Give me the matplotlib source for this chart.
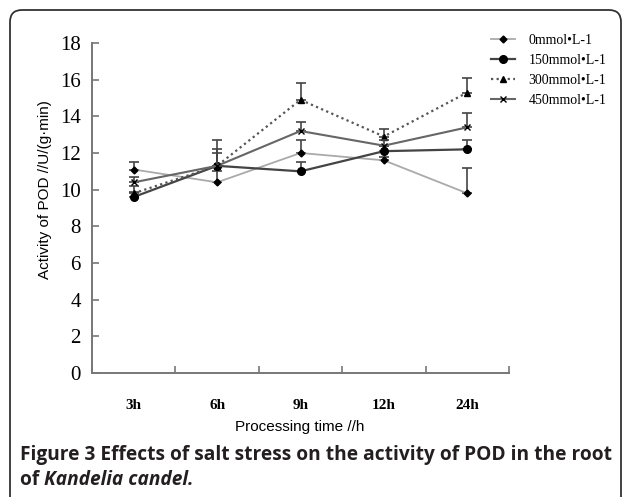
import numpy as np
import matplotlib
matplotlib.use("Agg")
import matplotlib.pyplot as plt
import matplotlib.patches as mpatches
from matplotlib.transforms import IdentityTransform

# data
times = ["3h", "6h", "9h", "12h", "24h"]
labels = ["0mmol•L-1", "150mmol•L-1", "300mmol•L-1", "450mmol•L-1"]
pod_0 = [11.1, 10.4, 12.0, 11.6, 9.8]
pod_150 = [9.6, 11.3, 11.0, 12.1, 12.2]
pod_300 = [9.8, 11.3, 14.9, 12.9, 15.3]
pod_450 = [10.4, 11.3, 13.2, 12.4, 13.4]
err_0 = [0.4, 0.6, 0.7, 0.2, 1.4]
err_150 = [0.3, 0.7, 0.5, 0.3, 0.5]
err_300 = [0.4, 0.9, 0.9, 0.4, 0.8]
err_450 = [0.3, 1.4, 0.5, 0.3, 0.8]

W, H = 629, 497
fig = plt.figure(figsize=(W / 100, H / 100), dpi=100)
ax = fig.add_axes([92 / W, 1 - 373 / H, (509 - 92) / W, (373 - 43) / H])

x = np.arange(len(times))
styles = [
    dict(color="#aaaaaa", lw=1.3, ls="-", marker="D", ms=3.5),
    dict(color="#444444", lw=1.6, ls="-", marker="o", ms=5.5),
    dict(color="#555555", lw=1.6, ls=(0, (1, 1.5)), marker="^", ms=5),
    dict(color="#666666", lw=1.5, ls="-", marker="x", ms=5),
]
series = [pod_0, pod_150, pod_300, pod_450]
errs = [err_0, err_150, err_300, err_450]

for y, e, lab, st in zip(series, errs, labels, styles):
    ax.errorbar(x, y, yerr=[np.zeros(len(e)), e], fmt="none",
                ecolor="#444444", elinewidth=1.2, capsize=3.5, capthick=1.2)
    ax.plot(x, y, color=st["color"], lw=st["lw"], ls=st["ls"],
            marker=st["marker"], ms=st["ms"], mfc="black", mec="black",
            label=lab)

ax.set_xlim(-0.5, len(times) - 0.5)
ax.set_ylim(0, 18)
ax.set_yticks(np.arange(0, 19, 2))
ax.set_xticks(np.arange(-0.5, len(times), 1))
ax.set_xticklabels([])
ax.set_xticks(x, minor=True)
ax.set_xticklabels(times, minor=True, fontfamily="Liberation Serif",
                   fontweight="bold", fontsize=11)
ax.tick_params(axis="x", which="minor", length=0, pad=19)
ax.tick_params(axis="x", which="major", direction="in", length=5,
               color="#777777", width=1.2)
ax.tick_params(axis="y", direction="in", length=5, color="#777777",
               width=1.2, pad=8)
for t in ax.get_yticklabels():
    t.set_fontfamily("Liberation Serif")
    t.set_fontsize(15)
for s in ["top", "right"]:
    ax.spines[s].set_visible(False)
for s in ["left", "bottom"]:
    ax.spines[s].set_color("#777777")
    ax.spines[s].set_linewidth(1.4)

ax.set_ylabel("Activity of POD //U/(g·min)", fontfamily="Liberation Sans",
              fontsize=11)
ax.yaxis.set_label_coords((52 - 92) / 417, (373 - 190) / 330)
ax.set_xlabel("Processing time //h", fontfamily="Liberation Sans", fontsize=11)
ax.xaxis.set_label_coords((300 - 92) / 417, (373 - 420) / 330)

fig.legend(loc="upper left", bbox_to_anchor=(484 / W, 1 - 27 / H),
           frameon=False, borderpad=0, handlelength=1.7, handletextpad=1.0,
           labelspacing=0.5, prop={"family": "Liberation Serif", "size": 10})

# rounded frame round the figure
box = mpatches.FancyBboxPatch((10, -30), 611, H - 10 + 30,
                              boxstyle="round,pad=0,rounding_size=12",
                              transform=IdentityTransform(),
                              fill=False, ec="#333333", lw=1.3)
fig.patches.append(box)

cap_kw = dict(fontfamily="Open Sans", fontweight="bold", fontsize=13.8,
              color="#231f20")
fig.text(20 / W, 1 - 460 / H,
         "Figure 3 Effects of salt stress on the activity of POD in the root",
         va="baseline", **cap_kw)
t1 = fig.text(20 / W, 1 - 485 / H, "of ", va="baseline", **cap_kw)
ax.annotate("Kandelia candel.", xy=(1, 0), xycoords=t1,
            annotation_clip=False, fontstyle="italic", va="bottom",
            ha="left", **cap_kw)

fig.savefig("out.png", dpi=100)
